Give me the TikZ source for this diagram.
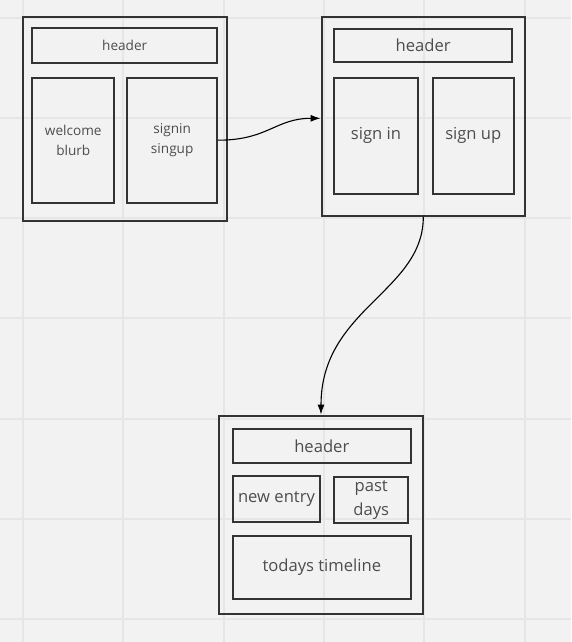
\documentclass[tikz,border=0pt]{standalone}
\usepackage{fontspec}
\setmainfont{Open Sans}
\usetikzlibrary{arrows.meta}
\definecolor{bg}{HTML}{F2F2F2}
\definecolor{gridc}{HTML}{E6E6E6}
\definecolor{strokec}{HTML}{333333}
\definecolor{textc}{HTML}{4D4D4D}
\tikzset{
  outerbox/.style={draw=strokec, line width=2.2pt, rectangle, inner sep=0pt},
  innerbox/.style={draw=strokec, line width=2pt, rectangle, inner sep=0pt, text=textc, align=center},
  smalltxt/.style={font=\fontsize{13.6}{19.5}\selectfont},
  bigtxt/.style={font=\fontsize{16.6}{24}\selectfont},
  link/.style={draw=black, line width=1.1pt, -{Latex[length=10pt,width=7pt]}},
  gridline/.style={draw=gridc, line width=1.3pt}
}
\begin{document}
\begin{tikzpicture}[x=1pt,y=-1pt]
\useasboundingbox (0,0) rectangle (571,642);
\fill[bg] (0,0) rectangle (571,642);
\foreach \gx in {23,123,224,324,424,525} \draw[gridline] (\gx,0) -- (\gx,642);
\foreach \gy in {18,118,218,318,419,519,619} \draw[gridline] (0,\gy) -- (571,\gy);

% page 1
\node[outerbox, minimum width=203.7pt, minimum height=203.7pt] (p1) at (124.8,118.8) {};
\node[innerbox, smalltxt, minimum width=184.7pt, minimum height=34.4pt] (h1) at (124.7,45.5) {header};
\node[innerbox, smalltxt, minimum width=82pt, minimum height=125pt] (wb) at (73.3,140.2) {welcome\\blurb};
\node[innerbox, smalltxt, minimum width=89.7pt, minimum height=125pt] (ss) at (172.2,140.2) {signin\\singup};

% page 2
\node[outerbox, minimum width=203.3pt, minimum height=198.4pt] (p2) at (423.3,116.5) {};
\node[innerbox, bigtxt, minimum width=178.3pt, minimum height=33.6pt] (h2) at (423.2,45.5) {header};
\node[innerbox, bigtxt, minimum width=84pt, minimum height=116pt] (si) at (376,135.7) {sign in};
\node[innerbox, bigtxt, minimum width=81.3pt, minimum height=116pt] (su) at (473.3,135.7) {sign up};

% page 3
\node[outerbox, minimum width=203.4pt, minimum height=198pt] (p3) at (321,514.7) {};
\node[innerbox, bigtxt, minimum width=178.3pt, minimum height=33.4pt] (h3) at (321.8,446) {header};
\node[innerbox, bigtxt, minimum width=87.6pt, minimum height=46pt] (ne) at (276.5,499) {new entry};
\node[innerbox, bigtxt, minimum width=74.3pt, minimum height=46pt] (pd) at (371.2,500) {past\\days};
\node[innerbox, bigtxt, minimum width=178.3pt, minimum height=63pt] (tt) at (321.8,567.5) {todays timeline};

% connectors
\draw[link] (ss.east) .. controls +(50,0) and +(-45,0) .. ([yshift=-1.8pt]p2.west);
\draw[link] (p2.south) .. controls +(0,75) and +(0,-106) .. (p3.north);
\end{tikzpicture}
\end{document}
